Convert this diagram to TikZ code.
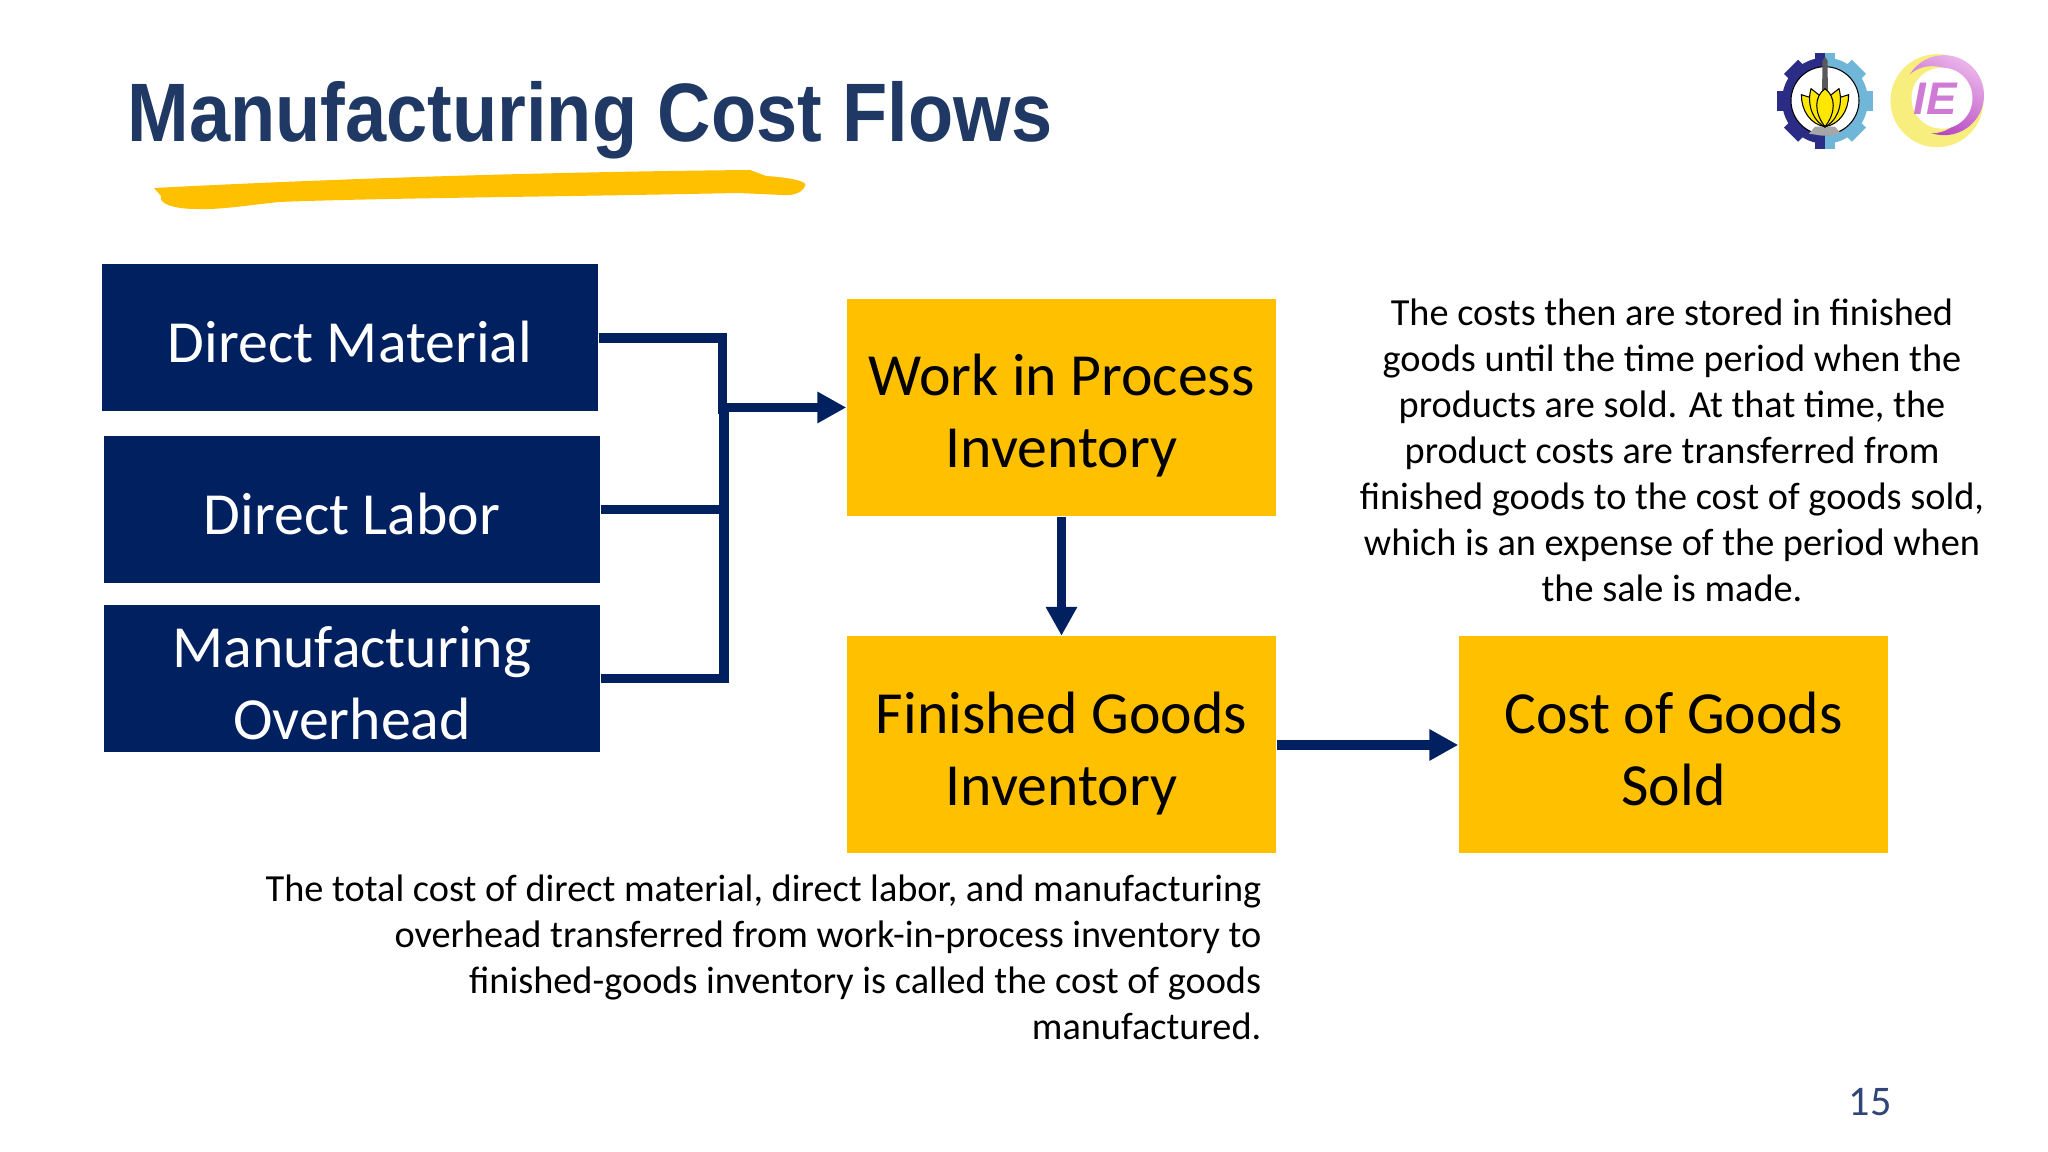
\documentclass[tikz,border=0pt]{standalone}
\usepackage{fontspec}
\setmainfont{Carlito}
\newfontfamily\titlefont{Liberation Sans}
\usetikzlibrary{arrows.meta}
\definecolor{navybox}{HTML}{002060}
\definecolor{goldbox}{HTML}{FFC000}
\definecolor{titleblue}{HTML}{1F3864}
\definecolor{pagenum}{HTML}{2F4676}
\definecolor{gearDark}{HTML}{2B2C86}
\definecolor{gearLight}{HTML}{6FB6D8}
\definecolor{iePink}{HTML}{EBB5EA}
\definecolor{iePurple}{HTML}{B23FC0}
\definecolor{ieYellow}{HTML}{F7EE7E}
\begin{document}
\begin{tikzpicture}[>={Triangle[length=8.2pt,width=8.4pt]},line join=miter,
  sourcebox/.style={fill=navybox,text=white,minimum width=4.96cm,minimum height=1.47cm,align=center,
    text height=0.50cm,text depth=0pt,font=\fontsize{17}{20.5}\selectfont},
  stockbox/.style={fill=goldbox,text=black,minimum width=4.29cm,minimum height=2.17cm,align=center,
    text height=1.21cm,text depth=0pt,font=\fontsize{17}{20.5}\selectfont},
  flow/.style={draw=navybox,line width=2.8pt},
  notetext/.style={text=black,inner sep=0pt,font=\fontsize{10.9}{13.1}\selectfont}]
\useasboundingbox (0,0) rectangle (20.48,11.52);
\fill[white] (0,0) rectangle (20.48,11.52);
% heading
\node[anchor=base west,inner sep=0pt,text=titleblue,xscale=0.892,font=\titlefont\bfseries\fontsize{23.6}{28}\selectfont] (heading) at (1.27,10.10) {Manufacturing Cost Flows};
\fill[goldbox] (1.54,9.64) .. controls (3.5,9.74) and (5.5,9.80) .. (7.50,9.82)
  -- (7.66,9.76) .. controls (7.95,9.74) and (8.08,9.70) .. (8.05,9.66)
  .. controls (8.02,9.58) and (7.90,9.56) .. (7.82,9.57)
  -- (7.38,9.59) .. controls (5.5,9.55) and (3.8,9.54) .. (2.79,9.50)
  .. controls (2.5,9.47) and (2.2,9.42) .. (1.96,9.43)
  .. controls (1.75,9.43) and (1.58,9.48) .. (1.61,9.56) -- cycle;
% boxes
\node[sourcebox] (material) at (3.50,8.14) {Direct Material};
\node[sourcebox] (labor) at (3.52,6.425) {Direct Labor};
\node[sourcebox,text height=1.23cm] (overhead) at (3.52,4.735) {Manufacturing\\Overhead};
\node[stockbox] (wip) at (10.615,7.445) {Work in Process\\Inventory};
\node[stockbox] (finished) at (10.615,4.07) {Finished Goods\\Inventory};
\node[stockbox] (sold) at (16.735,4.07) {Cost of Goods\\Sold};
% connectors
\coordinate (busTop) at (7.225,7.38);
\coordinate (busLow) at (7.24,7.40);
\draw[flow] (material.east) -| (busTop);
\draw[flow] (overhead.east) -| (busLow);
\draw[flow] (labor.east) -- (labor.east -| busLow);
\draw[flow,->] (wip.west -| busTop) -- (wip.west);
\draw[flow,->] (wip.south) -- (finished.north);
\draw[flow,->] (finished.east) -- (sold.west);
% notes
\node[notetext,align=center] (storedNote) at (16.72,7.02) {The costs then are stored in finished\\goods until the time period when the\\products are sold. At that time, the\\product costs are transferred from\\finished goods to the cost of goods sold,\\which is an expense of the period when\\the sale is made.};
\node[notetext,align=right,anchor=east] (totalNote) at (12.62,1.95) {The total cost of direct material, direct labor, and manufacturing\\overhead transferred from work-in-process inventory to\\finished-goods inventory is called the cost of goods\\manufactured.};
\node[text=pagenum,inner sep=0pt,font=\fontsize{12}{14}\selectfont] (pageno) at (18.70,0.50) {15};
% gear logo
\begin{scope}[shift={(18.25,10.513)}]
\begin{scope}
\clip (-0.6,-0.6) rectangle (0,0.6);
\fill[gearDark] (0,0) circle (0.43);
\foreach \a in {0,45,...,315}
  \fill[gearDark,rotate=\a] (-0.10,0.3) rectangle (0.10,0.48);
\end{scope}
\begin{scope}
\clip (0,-0.6) rectangle (0.6,0.6);
\fill[gearLight] (0,0) circle (0.43);
\foreach \a in {0,45,...,315}
  \fill[gearLight,rotate=\a] (-0.10,0.3) rectangle (0.10,0.48);
\end{scope}
\fill[white,draw=black,line width=0.3pt] (0,0) circle (0.34);
\fill[gray!70!black] (-0.03,0.05) -- (-0.025,0.40) -- (0,0.44) -- (0.025,0.40) -- (0.03,0.05) -- cycle;
\fill[gray!70] (-0.03,-0.35) -- (-0.16,-0.33) -- (-0.10,-0.26) -- (0.10,-0.26) -- (0.16,-0.33) -- (0.03,-0.35) -- cycle;
\foreach \s in {-1,1} {
  \filldraw[yellow!90!orange,draw=black,line width=0.3pt] (\s*0.235,0.06) .. controls (\s*0.24,-0.10) and (\s*0.14,-0.24) .. (0,-0.26) -- (\s*0.05,0) .. controls (\s*0.10,0.02) and (\s*0.18,0.04) .. cycle;
  \filldraw[yellow!90!orange,draw=black,line width=0.3pt] (\s*0.14,0.12) .. controls (\s*0.19,-0.06) and (\s*0.10,-0.22) .. (0,-0.26) -- (\s*0.05,0.05) -- cycle;
}
\filldraw[yellow!90!orange,draw=black,line width=0.3pt] (0,0.12) .. controls (0.11,0.04) and (0.11,-0.12) .. (0,-0.26) .. controls (-0.11,-0.12) and (-0.11,0.04) .. (0,0.12) -- cycle;
\end{scope}
% IE logo
\begin{scope}[shift={(19.37,10.513)}]
\fill[ieYellow] (0,0) circle (0.465);
\shade[top color=iePink,bottom color=iePurple,shading angle=-30] (0.07,0.055) circle (0.40);
\fill[ieYellow] (-0.05,0.01) circle (0.335);
\fill[white] (0.05,0.025) circle (0.305);
\node[inner sep=0pt,text=iePurple!50!iePink,font=\titlefont\itshape\bfseries\fontsize{13}{13}\selectfont] (ieMark) at (-0.02,0.02) {IE};
\end{scope}
\end{tikzpicture}
\end{document}
